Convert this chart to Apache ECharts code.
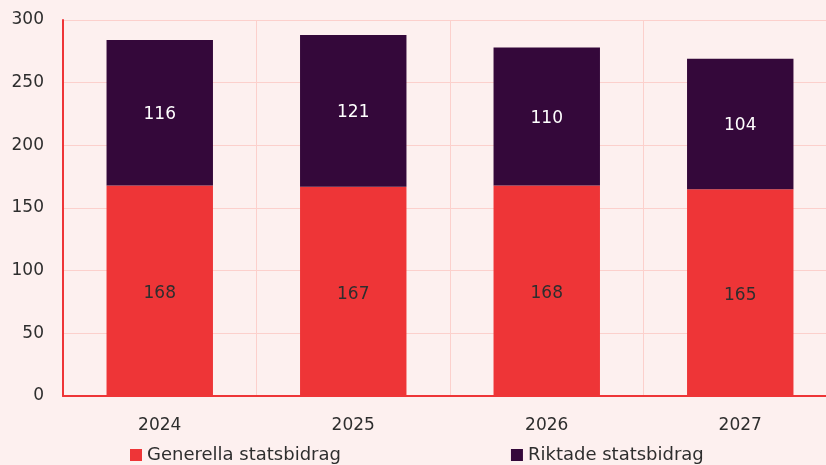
<!DOCTYPE html>
<html>
<head>
<meta charset="utf-8">
<script src="https://cdn.jsdelivr.net/npm/echarts@6/dist/echarts.min.js"></script>
<style>
  html, body { margin: 0; padding: 0; background: #fdf0ef; }
  #chart { width: 826px; height: 465px; }
</style>
</head>
<body>
<div id="chart"></div>
<script>
// Statsbidrag per år, miljarder kronor
const years = ['2024', '2025', '2026', '2027'];
const generella = [168, 167, 168, 165];
const riktade = [116, 121, 110, 104];
const yTicks = [0, 50, 100, 150, 200, 250, 300];

const FONT = '"DejaVu Sans", "Noto Sans", sans-serif';
const RED = '#ee3537';
const PURPLE = '#34083a';
const GRID = '#fcd0cc';
const TEXT = '#2e2e2e';

const chart = echarts.init(document.getElementById('chart'), null, { renderer: 'canvas' });
chart.setOption({
  backgroundColor: '#fdf0ef',
  animation: false,
  textStyle: { fontFamily: FONT },
  // the plot area runs a little past the right edge of the canvas
  grid: { left: 63, width: 774, top: 20, bottom: 69, containLabel: false, outerBoundsMode: 'none' },
  legend: {
    left: 125,
    bottom: -4,
    itemWidth: 12,
    itemHeight: 12,
    itemGap: 170,
    icon: 'rect',
    textStyle: { fontFamily: FONT, fontSize: 18, color: TEXT },
    data: ['Generella statsbidrag', 'Riktade statsbidrag']
  },
  xAxis: {
    type: 'category',
    data: years,
    axisLine: { show: true, lineStyle: { color: RED, width: 2 } },
    axisTick: { show: false },
    splitLine: { show: true, lineStyle: { color: GRID, width: 1 } },
    axisLabel: { fontFamily: FONT, fontSize: 17, color: TEXT, margin: 21 }
  },
  yAxis: {
    type: 'value',
    min: yTicks[0],
    max: yTicks[yTicks.length - 1],
    interval: 50,
    axisLine: { show: true, lineStyle: { color: RED, width: 2 } },
    axisTick: { show: false },
    splitLine: { show: true, lineStyle: { color: GRID, width: 1 } },
    axisLabel: { fontFamily: FONT, fontSize: 17, color: TEXT, margin: 19 }
  },
  series: [
    {
      name: 'Generella statsbidrag',
      type: 'bar',
      stack: 'total',
      barWidth: '55%',
      data: generella,
      itemStyle: { color: RED },
      label: { show: true, position: 'inside', fontFamily: FONT, fontSize: 17, color: TEXT, offset: [0, 3] }
    },
    {
      name: 'Riktade statsbidrag',
      type: 'bar',
      stack: 'total',
      data: riktade,
      itemStyle: { color: PURPLE },
      label: { show: true, position: 'inside', fontFamily: FONT, fontSize: 17, color: '#ffffff', offset: [0, 2] }
    }
  ]
});
</script>
</body>
</html>
